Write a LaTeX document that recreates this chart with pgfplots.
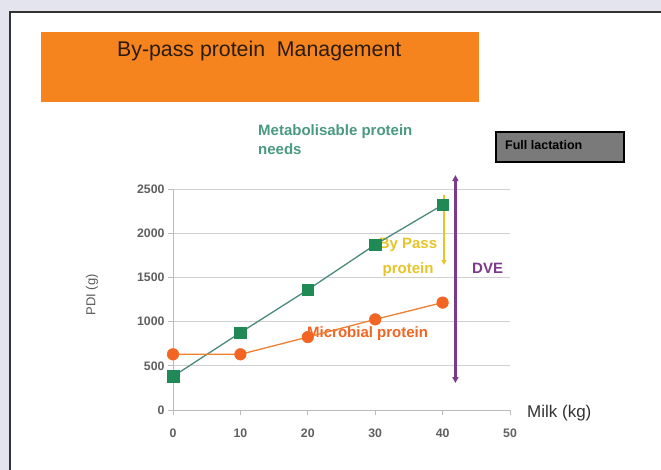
\documentclass[border=0pt]{standalone}
\usepackage{fontspec}
\setmainfont{Liberation Sans}
\usepackage{pgfplots}
\pgfplotsset{compat=1.18}
\usetikzlibrary{arrows.meta}
\definecolor{bg}{HTML}{E4E4EF}
\definecolor{banner}{HTML}{F5841F}
\definecolor{titletxt}{HTML}{2B1B0E}
\definecolor{boxgray}{HTML}{7A7A7A}
\definecolor{mgreen}{HTML}{1F8A55}
\definecolor{mgreenline}{HTML}{4A8A7A}
\definecolor{morange}{HTML}{F26522}
\definecolor{morangeline}{HTML}{F08030}
\definecolor{mtext}{HTML}{4A9A80}
\definecolor{dve}{HTML}{7B3A8A}
\definecolor{bypass}{HTML}{E8C428}
\definecolor{axgray}{HTML}{BBBBBB}
\definecolor{gridgray}{HTML}{D0D0D0}
\definecolor{ticktxt}{HTML}{606060}

\pgfplotstableread{
x y
0 380
10 875
20 1360
30 1870
40 2320
}\needs
\pgfplotstableread{
x y
0 630
10 630
20 825
30 1025
40 1215
}\microbial

\begin{document}
\begin{tikzpicture}[x=1pt,y=1pt]
\path[use as bounding box] (0,0) rectangle (661,470);
\clip (0,0) rectangle (661,470);
\fill[bg] (0,0) rectangle (661,470);
\filldraw[fill=white, draw=black!80, line width=1.5pt] (10,-10) rectangle (690,458);
% banner
\fill[banner] (41,368) rectangle (479,438);
\node[anchor=base west, font=\fontsize{21.3}{25}\selectfont, text=titletxt, inner sep=0] at (117,413) {By-pass protein\ \ Management};
% full lactation box
\filldraw[fill=boxgray, draw=black, line width=2.5pt] (496,308) rectangle (624,338);
\node[anchor=west, font=\fontsize{12.5}{14}\selectfont\bfseries, text=black, inner sep=0] at (505,325) {Full lactation};
% labels
\node[anchor=base west, font=\fontsize{15}{18}\selectfont\bfseries, text=mtext, inner sep=0] at (258,334.5) {Metabolisable protein};
\node[anchor=base west, font=\fontsize{15}{18}\selectfont\bfseries, text=mtext, inner sep=0] at (258,315.5) {needs};
\node[anchor=base, font=\fontsize{15}{18}\selectfont\bfseries, text=bypass, inner sep=0] at (408,221.5) {By Pass};
\node[anchor=base, font=\fontsize{15}{18}\selectfont\bfseries, text=bypass, inner sep=0] at (408,196) {protein};
\node[anchor=base west, font=\fontsize{15}{18}\selectfont\bfseries, text=morange, inner sep=0] at (307,132) {Microbial protein};
\node[anchor=base west, font=\fontsize{15}{18}\selectfont\bfseries, text=dve, inner sep=0] at (472,196.5) {DVE};
\node[anchor=base west, font=\fontsize{17}{20}\selectfont, text=black!80, inner sep=0] at (527,52) {Milk (kg)};
\node[rotate=90, anchor=center, font=\fontsize{13}{15}\selectfont, text=black!65, inner sep=0] at (92,175) {PDI (g)};

\begin{axis}[
  at={(173pt,60pt)}, anchor=south west,
  scale only axis, width=337pt, height=221pt,
  xmin=0, xmax=50, ymin=0, ymax=2500,
  axis x line=bottom, axis y line=left,
  axis line style={-, draw=axgray, line width=0.9pt},
  xtick={0,10,20,30,40,50}, ytick={0,500,1000,1500,2000,2500},
  ymajorgrids, grid style={gridgray, line width=0.9pt},
  tick align=outside, major tick length=5pt,
  tick style={axgray, line width=0.8pt},
  ticklabel style={font=\fontsize{12.3}{14}\selectfont\bfseries, text=ticktxt},
  /pgf/number format/assume math mode=true,
  /pgf/number format/1000 sep={},
  xticklabel style={yshift=-10pt},
  clip=false,
]
\addplot[color=mgreenline, line width=1.3pt, mark=square*, mark size=5.8pt,
  mark options={fill=mgreen, draw=mgreen, line width=0.5pt}] table[x=x,y=y] {\needs};
\addplot[color=morangeline, line width=1.3pt, mark=*, mark size=5.8pt,
  mark options={fill=morange, draw=morange, line width=0.5pt}] table[x=x,y=y] {\microbial};
\draw[bypass, line width=1.3pt, -{Triangle[length=5pt,width=4.5pt]}] (axis cs:40.2,2432) -- (axis cs:40.2,1640);
\draw[dve, line width=2.2pt, {Triangle[length=6pt,width=6pt]}-{Triangle[length=6pt,width=6pt]}] (axis cs:41.9,305) -- (axis cs:41.9,2658);
\end{axis}
\end{tikzpicture}
\end{document}
